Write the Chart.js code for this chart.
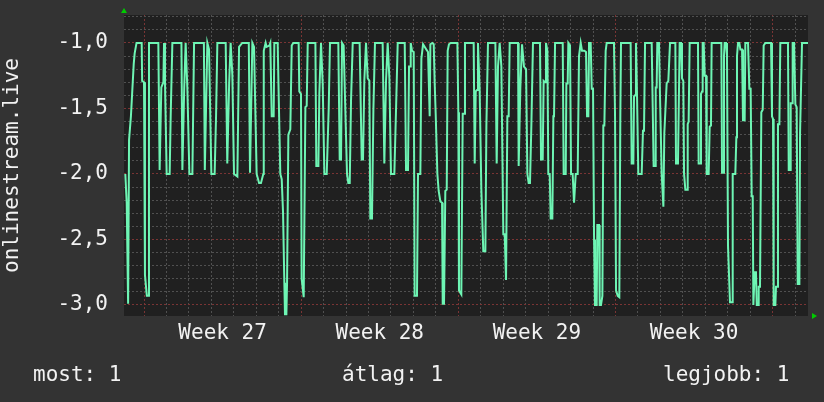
<!DOCTYPE html>
<html>
<head>
<meta charset="utf-8">
<script src="https://cdn.jsdelivr.net/npm/chart.js@4/dist/chart.umd.min.js"></script>
<style>
  body { margin: 0; background: #333333; }
  #wrap { position: relative; width: 824px; height: 402px; background: #333333; }
  #chart { position: absolute; left: 0; top: 0; }
  .stat { position: absolute; top: 364px; font: 21px/21px "DejaVu Sans Mono", monospace; color: #f2f2f2; white-space: pre; }
</style>
</head>
<body>
<div id="wrap">
  <canvas id="chart" width="824" height="402"></canvas>
  <div class="stat" style="left:33px">most: 1</div>
  <div class="stat" style="left:342px">átlag: 1</div>
  <div class="stat" style="left:663px">legjobb: 1</div>
</div>
<script>
// hours since the start of week 27
const hours = [
  -20, -18.5, -17, -16, -14, -11, -10, -8, -2.5, -2, 0, 1, 3, 4.3, 5.3,
  15.3, 16.7, 18.5, 20.7, 21.4, 22.4, 24.2, 27.4, 28.5, 30.3,
  40, 41, 43, 44.5, 46.3, 48.5, 51.7, 53.5,
  64, 65, 67.7, 69.5, 72, 75.5, 77, 78.4,
  87.3, 89, 91, 92.6, 94.4, 96.2, 99.8, 101.6, 105,
  112, 113.3, 115.8, 117.6, 120.4, 123,
  125, 127.5, 128, 130, 131, 134, 135, 136.5, 138.6, 139.3,
  142.9, 143.6, 145.7, 147.2, 148.6, 150, 150.7, 152.2, 152.9, 154.3,
  156.4, 157.9, 159.6, 165.3, 166, 167.8, 168.5, 170.7, 172.5, 173.9,
  175, 183.2, 184.2, 186.4, 187.4, 189.2, 191, 192.8, 195.3, 197.4,
  198.8, 207.7, 209.2, 210.6, 211.7, 213.4, 217, 218.4, 219.9, 221.3,
  223.1, 230.5, 232.7, 234.1, 235.5, 237.3, 239.1, 240.9, 241.9, 243.7,
  245.2, 246.9, 255.1, 256.9, 258.7, 260.5, 262.3, 264, 267.6, 269.4,
  271.2,
  278.7, 280.1, 282.2, 283.3, 284.4, 285.1, 286.5, 288.3, 289.3, 291.8,
  292.9, 295.4, 296.5, 298.3, 301.8, 303.6, 305.4, 306.1, 308.2, 309.7,
  310.7, 311.8, 313.6, 315, 316.8, 318.6, 319.3, 320.7, 322.1, 323.6,
  324.6, 326, 327.8, 335, 336, 336.7, 339.2, 340.7, 342.1, 343.1,
  352.4, 353.5, 354.6, 356, 357, 358.8, 360.6, 362.7, 364.9, 366,
  367.7, 375.6, 377, 378.4, 380.2, 382, 384.1, 385.6, 387, 388.4,
  389.8, 390.9, 399.8, 400.5, 402.3, 404.1, 406.2, 408.4, 409.8, 411.2,
  412.6, 414.1, 415.8,
  423.3, 424.4, 426.2, 427.2, 428.7, 429.7, 431.2, 432.2, 433.7, 434.7,
  436.5, 437.6, 438.3, 439.4, 447.6, 448.6, 450.8, 451.5, 452.9, 453.6,
  455.4, 456.5, 458.2, 459.7, 460.7, 461.5, 463.6, 465, 466.8, 468.2,
  470.7, 472.5, 473.6, 475, 475.7, 477.5, 478.6, 480, 481.1, 482.1,
  483.9, 484.6, 486.4, 487.1, 488.5, 490, 491, 492.1, 493.5, 494.6,
  502.4, 503.5, 504.6, 506.4, 508.1, 509.2, 509.9, 520.2, 521.3, 523.1,
  523.8, 524.9, 525.9, 527, 528.4, 532, 533.4, 534.5, 535.6, 542.7,
  544.8, 546.3, 547, 548, 548.7, 550.5, 551.6, 553.4, 555.2, 556.2,
  558.7, 560.5, 562.3,
  568, 568.7, 570.8, 572.6, 574.1, 575.1, 576.5, 577.3, 578.7, 580.5,
  581.2, 582.2, 583.3, 592.2, 592.9, 594.7, 595.4, 596.5, 597.2, 598.3,
  599.4, 600.8, 601.5, 603.6, 604.7, 606.1, 606.8, 617.2, 617.9, 619,
  620, 620.7, 622.2, 623.2, 624.3, 626.4, 628.6, 629.3, 632.1, 633.2,
  633.9, 635, 636.4, 637.5, 639.3, 640.3, 642.1, 642.8, 645.7, 647.1,
  648.5, 649.6, 650.7, 651.4, 652.8, 654.2, 655, 656.4, 657.1, 658.5,
  659.9, 661.4, 662.4, 664.2, 670.3, 671.3, 672.4, 673.1, 674.9, 675.6,
  676.7, 677.7, 679.2, 680.2, 688.4, 689.2, 690.6, 691.3, 692.7, 693.4,
  694.9, 696.3, 697.7, 698.8, 700.6, 701.3, 702.3, 703.4, 709.8
];

const values = [
  -2.0, -2.22, -2.99, -1.74, -1.56, -1.16, -1.08, -1.0, -1.0, -1.29, -1.3, -2.77, -2.93, -2.93, -1.0,
  -1.0, -1.97, -1.34, -1.3, -1.0, -1.29, -2.0, -2.0, -1.56, -1.0,
  -1.0, -1.97, -1.34, -1.0, -1.34, -2.0, -2.0, -1.0,
  -1.0, -1.97, -1.0, -1.05, -2.0, -2.0, -1.56, -1.0,
  -1.0, -1.92, -1.31, -1.0, -1.24, -2.0, -2.02, -1.03, -1.0,
  -1.0, -1.99, -1.0, -1.03, -2.0, -2.07,
  -2.07, -2.0, -1.06, -1.0, -1.03, -1.02, -1.0, -1.56, -1.56, -1.0,
  -1.0, -1.27, -2.0, -2.04, -2.29, -2.83, -3.07, -3.07, -2.83, -1.7,
  -1.66, -1.02, -1.0, -1.0, -1.37, -1.39, -2.8, -2.94, -1.49, -1.48,
  -1.0, -1.0, -1.94, -1.94, -1.39, -1.0, -1.31, -2.0, -2.0, -1.51,
  -1.0, -1.0, -1.89, -1.89, -1.0, -1.02, -2.0, -2.07, -2.07, -1.44,
  -1.0, -1.0, -1.89, -1.89, -1.29, -1.0, -1.27, -1.29, -2.34, -2.34,
  -1.51, -1.0, -1.0, -1.92, -1.29, -1.0, -1.27, -2.0, -2.0, -1.51,
  -1.0,
  -1.0, -1.97, -1.97, -1.18, -1.18, -1.0, -1.06, -1.07, -2.93, -2.93,
  -2.0, -2.0, -1.12, -1.01, -1.05, -1.07, -1.56, -1.01, -1.0, -1.01,
  -1.3, -1.54, -2.0, -2.13, -2.21, -2.22, -2.99, -2.99, -2.13, -2.12,
  -1.06, -1.01, -1.0, -1.0, -1.53, -2.89, -2.92, -1.54, -1.54, -1.0,
  -1.0, -1.92, -1.37, -1.36, -1.0, -1.36, -2.12, -2.59, -2.59, -1.63,
  -1.0, -1.0, -1.92, -1.18, -1.0, -1.18, -2.46, -2.46, -2.81, -1.56,
  -1.56, -1.0, -1.0, -1.94, -1.34, -1.01, -1.18, -1.2, -2.0, -2.07,
  -2.07, -1.62, -1.0,
  -1.0, -1.89, -1.89, -1.29, -1.3, -1.0, -1.06, -2.0, -2.0, -2.34,
  -2.34, -1.56, -1.56, -1.0, -1.0, -2.0, -2.0, -1.31, -1.31, -1.0,
  -1.02, -2.0, -2.0, -2.22, -2.22, -2.0, -2.0, -1.1, -1.0, -1.06,
  -1.06, -1.07, -1.56, -1.56, -1.0, -1.0, -1.35, -1.35, -2.5, -3.0,
  -3.0, -2.39, -2.39, -3.0, -3.0, -2.93, -1.63, -1.63, -1.06, -1.0,
  -1.0, -1.54, -2.89, -2.93, -2.94, -1.54, -1.0, -1.0, -1.92, -1.92,
  -1.41, -1.4, -1.0, -1.39, -2.0, -2.0, -1.67, -1.67, -1.0, -1.0,
  -1.94, -1.94, -1.34, -1.34, -1.0, -1.0, -1.41, -2.0, -2.25, -1.69,
  -1.31, -1.29, -1.0,
  -1.0, -1.92, -1.92, -1.0, -1.0, -1.27, -1.29, -2.0, -2.12, -2.12,
  -1.62, -1.6, -1.0, -1.0, -1.92, -1.92, -1.39, -1.37, -1.0, -1.0,
  -1.25, -1.25, -2.0, -2.0, -1.64, -1.63, -1.0, -1.0, -1.99, -1.99,
  -1.1, -1.0, -1.0, -1.1, -2.55, -2.98, -2.98, -2.0, -2.0, -1.72,
  -1.1, -1.0, -1.0, -1.05, -1.05, -1.59, -1.59, -1.0, -1.0, -1.35,
  -1.35, -2.17, -2.17, -3.0, -2.75, -2.75, -3.0, -3.0, -2.86, -2.86,
  -1.53, -1.51, -1.02, -1.0, -1.0, -1.56, -1.58, -3.0, -3.0, -2.86,
  -2.86, -1.62, -1.62, -1.0, -1.0, -1.97, -1.97, -1.46, -1.46, -1.0,
  -1.0, -1.47, -1.49, -2.84, -2.84, -1.69, -1.69, -1.0, -1.0
];

// x axis: week labels sit in the middle of each week
const weekCenters = [84, 252, 420, 588];
const weekLabels = ['Week 27', 'Week 28', 'Week 29', 'Week 30'];

// y axis labels (only every half step is labelled)
const yLabelValues = [-3.0, -2.5, -2.0, -1.5, -1.0];
const yLabels = ['-3,0', '-2,5', '-2,0', '-1,5', '-1,0'];

if (hours.length !== values.length) console.log('length mismatch', hours.length, values.length);

const X_MIN = -21.4, X_MAX = 709.8;
const Y_MIN = -3.084, Y_MAX = -0.787;

const FONT = { family: '"DejaVu Sans Mono", monospace', size: 21 };
const TEXT = '#f2f2f2';
const GRID_MINOR = '#505050';
const GRID_MAJOR = '#7a3434';

function isMultiple(v, step) {
    const r = v / step;
    return Math.abs(r - Math.round(r)) < 1e-6;
}

// one grid line per day, one per 0.1 on the value axis
function dayTicks() {
    const t = [];
    for (let h = 0; h <= X_MAX; h += 24) t.push({ value: h });
    return t;
}
function tenthTicks() {
    const t = [];
    for (let k = -30; k <= -8; k++) t.push({ value: k / 10 });
    return t;
}

// labels may hang over the plot edge, don't let them shrink the plot
function noEdgePadding(s) {
    s.paddingTop = 0;
    s.paddingBottom = 0;
    s.paddingLeft = 0;
    s.paddingRight = 0;
}

// plot background + the little green axis arrows
const rrdLook = {
    id: 'rrdLook',
    beforeDraw(chart) {
        const a = chart.chartArea;
        const c = chart.ctx;
        c.save();
        c.fillStyle = '#202020';
        c.fillRect(a.left, a.top, a.right - a.left, a.bottom - a.top);
        c.restore();
    },
    afterDraw(chart) {
        const a = chart.chartArea;
        const c = chart.ctx;
        c.save();
        c.fillStyle = '#00cc00';
        c.beginPath();
        c.moveTo(a.left - 3, a.top - 2);
        c.lineTo(a.left + 3, a.top - 2);
        c.lineTo(a.left, a.top - 7);
        c.closePath();
        c.fill();
        c.beginPath();
        c.moveTo(a.right + 4, a.bottom - 3);
        c.lineTo(a.right + 4, a.bottom + 3);
        c.lineTo(a.right + 9, a.bottom);
        c.closePath();
        c.fill();
        c.restore();
    }
};

const ctx = document.getElementById('chart').getContext('2d');
const chart = new Chart(ctx, {
    type: 'line',
    data: {
        datasets: [{
            data: hours.map((h, i) => ({ x: h, y: values[i] })),
            borderColor: '#6ef5b4',
            borderWidth: 2,
            pointRadius: 0,
            tension: 0,
            fill: false
        }]
    },
    options: {
        responsive: false,
        animation: false,
        layout: { padding: { left: 0, right: 16, top: 15, bottom: 0 } },
        plugins: {
            legend: { display: false },
            tooltip: { enabled: false }
        },
        scales: {
            x: {
                type: 'linear',
                min: X_MIN,
                max: X_MAX,
                weight: 0,
                afterBuildTicks(s) { s.ticks = dayTicks(); },
                ticks: { display: false, autoSkip: false },
                grid: {
                    drawTicks: false,
                    color: c => isMultiple(c.tick.value, 168) ? GRID_MAJOR : GRID_MINOR
                },
                border: { display: false, dash: [2, 2] },
                afterFit(s) { s.height = 0; noEdgePadding(s); }
            },
            xw: {
                type: 'linear',
                position: 'bottom',
                min: X_MIN,
                max: X_MAX,
                weight: 1,
                grid: { display: false, drawTicks: false },
                border: { display: false },
                afterBuildTicks(s) { s.ticks = weekCenters.map(v => ({ value: v })); },
                ticks: {
                    autoSkip: false,
                    maxRotation: 0,
                    padding: 5,
                    color: TEXT,
                    font: FONT,
                    callback: (v, i) => weekLabels[i]
                },
                afterFit(s) { s.height = 86; noEdgePadding(s); }
            },
            y: {
                min: Y_MIN,
                max: Y_MAX,
                afterBuildTicks(s) { s.ticks = tenthTicks(); },
                ticks: {
                    autoSkip: false,
                    padding: 16,
                    color: TEXT,
                    font: FONT,
                    callback: v => {
                        const i = yLabelValues.findIndex(t => Math.abs(t - v) < 1e-6);
                        return i >= 0 ? yLabels[i] : '';
                    }
                },
                grid: {
                    drawTicks: false,
                    color: c => isMultiple(c.tick.value, 0.5) ? GRID_MAJOR : GRID_MINOR
                },
                border: { display: false, dash: [2, 2] },
                title: { display: true, text: 'onlinestream.live', color: TEXT, font: FONT, padding: 0 },
                afterFit(s) { s.width = 124; noEdgePadding(s); }
            }
        }
    },
    plugins: [rrdLook]
});
</script>
</body>
</html>
